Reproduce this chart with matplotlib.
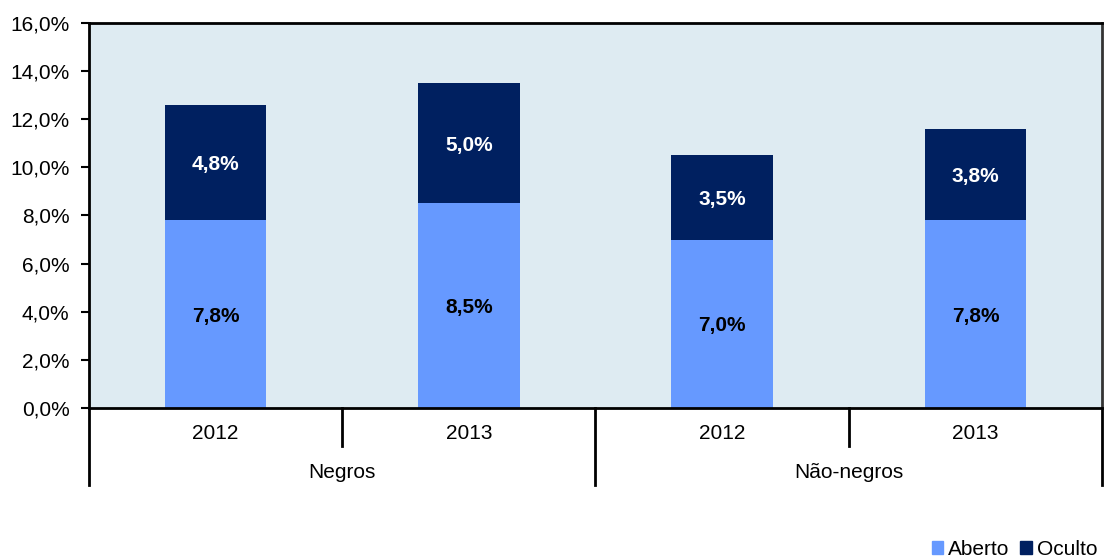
import numpy as np
import matplotlib.pyplot as plt
from matplotlib.patches import Patch

plt.rcParams['font.family'] = ['Liberation Sans', 'DejaVu Sans']

groups = ['Negros', 'Não-negros']
years = ['2012', '2013', '2012', '2013']
aberto = [7.8, 8.5, 7.0, 7.8]
oculto = [4.8, 5.0, 3.5, 3.8]

c_aberto = '#6699FF'
c_oculto = '#002060'
fs = 15

fig = plt.figure(figsize=(11.05, 5.58), dpi=100)
ax = fig.add_axes([0.0805, 0.2688, 0.9168, 0.69])
ax.set_facecolor('#DEEBF2')

x = np.arange(len(years))
ax.bar(x, aberto, width=0.4, color=c_aberto, zorder=2)
ax.bar(x, oculto, width=0.4, bottom=aberto, color=c_oculto, zorder=2)

for i in range(len(x)):
    ax.text(x[i], aberto[i] / 2 - 0.08, f'{aberto[i]:.1f}%'.replace('.', ','),
            ha='center', va='center', fontsize=fs, fontweight='bold', color='black')
    ax.text(x[i], aberto[i] + oculto[i] / 2 - 0.08, f'{oculto[i]:.1f}%'.replace('.', ','),
            ha='center', va='center', fontsize=fs, fontweight='bold', color='white')

ax.set_xlim(-0.5, 3.5)
ax.set_ylim(0, 16)
ax.set_yticks(np.arange(0, 17, 2))
ax.set_yticklabels([f'{v:.1f}%'.replace('.', ',') for v in np.arange(0, 17, 2)], fontsize=fs)
ax.tick_params(axis='y', length=6, width=1.5, pad=8)
ax.set_xticks([])
for s in ax.spines.values():
    s.set_linewidth(2)
    s.set_color('black')
ax.spines['right'].set_color('#333333')

# category axis below the plot
for i, y in enumerate(years):
    ax.text(x[i], -0.066, y, transform=ax.get_xaxis_transform(),
            ha='center', va='center', fontsize=fs)
for g, xc in zip(groups, [0.5, 2.5]):
    ax.text(xc, -0.167, g, transform=ax.get_xaxis_transform(),
            ha='center', va='center', fontsize=fs)
for xs in [0.5, 2.5]:
    ax.plot([xs, xs], [0, -0.098], transform=ax.get_xaxis_transform(),
            color='black', lw=2, clip_on=False)
for xs in [-0.5, 1.5, 3.5]:
    ax.plot([xs, xs], [0, -0.2], transform=ax.get_xaxis_transform(),
            color='black', lw=2, clip_on=False)

handles = [Patch(color=c_aberto, label='Aberto'), Patch(color=c_oculto, label='Oculto')]
fig.legend(handles=handles, loc='lower right', bbox_to_anchor=(1.01, -0.035), ncol=2,
           frameon=False, fontsize=fs, handlelength=0.55, handleheight=0.55,
           handletextpad=0.25, columnspacing=0.5)

fig.savefig('out.png', dpi=100)
